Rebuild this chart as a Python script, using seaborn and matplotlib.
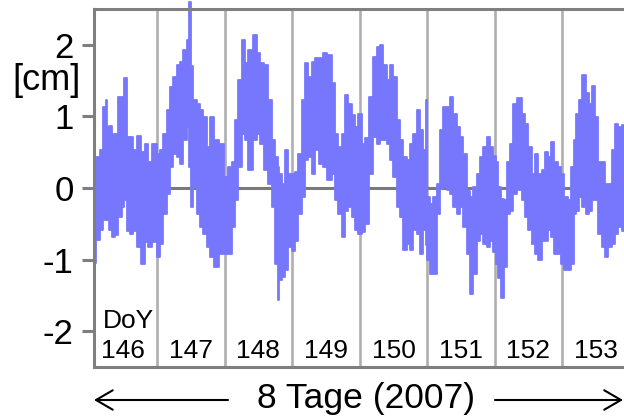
import numpy as np
import matplotlib
matplotlib.use("Agg")
import matplotlib.pyplot as plt
import seaborn as sns
from matplotlib.patches import FancyArrowPatch

# --- data (hours since start of DoY 146, envelope in cm) ---
hours = [1.3, 3.1, 4.3, 5.4, 6.0, 6.6, 7.2, 8.4, 9.6, 10.8, 11.9, 12.8, 13.7, 14.9,
         16.1, 17.6, 19.1, 20.3, 21.4, 23.2, 24.4, 25.6, 26.8, 27.9, 29.2, 30.3,
         31.5, 32.7, 33.9, 35.1, 35.7, 36.3, 37.4, 38.6, 39.8, 41.0, 42.2, 43.4,
         45.2, 46.9, 48.7, 49.9, 51.1, 52.3, 53.4, 54.6, 55.8, 57.0, 58.8, 59.9,
         61.2, 62.9, 64.1, 65.3, 66.5, 67.1, 67.7, 68.8, 70.0, 71.2, 72.4, 73.6,
         74.8, 75.9, 77.2, 78.3, 79.5, 80.7, 82.5, 83.7, 85.4, 86.6, 87.8, 89.0,
         90.2, 91.4, 92.6, 93.7, 94.9, 96.1, 97.3, 98.5, 100.0, 101.4, 102.6,
         103.8, 105.0, 106.2, 107.4, 108.6, 109.7, 110.9, 112.1, 113.3, 114.5,
         115.7, 116.8, 118.0, 119.2, 119.8, 120.4, 121.6, 122.8, 123.9, 125.2,
         126.3, 127.5, 128.7, 129.9, 131.1, 132.3, 133.4, 134.6, 135.8, 137.0,
         138.2, 139.4, 140.6, 141.7, 142.9, 144.1, 144.7, 145.9, 146.8, 147.7,
         148.8, 150.0, 151.2, 153.0, 154.2, 155.4, 156.6, 157.7, 158.9, 160.1,
         161.3, 162.2, 163.7, 164.6, 165.8, 167.0, 168.2, 169.4, 170.5, 171.7,
         172.6, 173.4, 174.6, 175.8, 176.9, 178.1, 179.3, 180.3, 181.4, 182.6,
         183.8, 185.0, 186.2, 187.4, 188.6, 189.7, 191.5]
upper = [0.00, 0.43, 0.53, 1.13, 1.23, 0.85, 0.87, 0.76, 0.76, 1.27, 1.27, 1.53, 0.71, 0.71,
         0.53, 0.73, 0.50, 0.62, 0.36, 0.62, 0.48, 0.53, 0.76, 1.09, 1.41, 1.55,
         1.72, 1.76, 1.93, 2.07, 2.60, 1.70, 1.23, 1.18, 1.09, 0.99, 0.57, 0.99,
         0.67, 0.62, 0.15, 0.29, 0.36, 0.95, 1.51, 2.07, 1.74, 1.93, 2.13, 1.88,
         1.74, 1.72, 1.23, 0.67, 0.43, 0.30, 0.20, 0.06, 0.53, 0.20, 0.20, 0.22,
         0.48, 1.23, 1.74, 1.55, 1.76, 1.81, 1.81, 1.88, 1.86, 1.46, 0.76, 0.57,
         0.76, 1.30, 1.18, 1.02, 0.85, 1.04, 0.62, 0.70, 1.27, 1.83, 1.97,
         2.00, 1.72, 1.51, 1.72, 1.55, 0.95, 0.67, 0.43, 0.39, 0.62,
         0.76, 1.09, 0.81, 0.53, 1.23, -0.12, -0.22, -0.12, 0.06, 0.81,
         1.13, 1.13, 1.27, 1.04, 0.85, 0.71, 0.48, -0.04, -0.13, 0.01,
         0.20, 0.43, 0.57, 0.71, 0.57, 0.45, 0.36, 0.01, -0.15, -0.17,
         0.36, 0.62, 1.18, 1.25, 1.04, 0.90, 0.57, 0.20, 0.48, 0.20,
         0.25, 0.50, 0.43, 0.64, 0.36, 0.29, 0.20, -0.12, -0.17, 0.29,
         0.67, 1.04, 1.23, 1.58, 1.32, 1.18, 1.43, 0.99, 0.36, 0.36,
         0.06, 0.06, 0.53, 0.90, 0.85, 0.88, 0.85]
lower = [-1.05, -0.73, -0.59, -0.45, -0.30, -0.45, -0.59, -0.69, -0.66, -0.41, -0.27, -0.17, -0.60, -0.64,
         -0.60, -0.83, -1.06, -0.75, -0.83, -0.75, -0.97, -0.78, -0.36, -0.08, 0.29, 0.48,
         0.43, 0.34, 0.67, 0.85, 0.30, -0.27, 0.01, -0.36, -0.55, -0.64, -0.83, -0.97,
         -1.11, -0.92, -0.92, -0.92, -0.55, -0.17, 0.29, 0.76, 0.67, 0.25, 0.67, 0.76,
         0.62, 0.25, 0.06, -0.27, -1.06, -1.57, -1.29, -1.24, -1.15, -0.83, -0.88, -0.74,
         -0.36, -0.12, 0.39, 0.43, 0.20, 0.53, 0.34, 0.29, 0.11, 0.20, -0.17, -0.36,
         -0.69, -0.32, -0.27, -0.41, -0.59, -0.64, -0.62, -0.50, 0.20, 0.71, 0.62,
         0.67, 0.67, 0.62, 0.39, 0.15, -0.27, -0.41, -0.87, -0.78, -0.87,
         -0.59, -0.64, -0.92, -0.59, -0.80, -1.01, -1.20, -1.20, -0.36, -0.01,
         0.01, -0.03, -0.08, -0.27, -0.36, -0.27, -0.55, -0.92, -1.48, -1.20,
         -0.74, -0.64, -0.78, -0.83, -0.74, -0.90, -1.06, -1.25, -1.53, -1.10,
         -0.36, -0.32, -0.08, -0.03, -0.17, -0.41, -0.59, -0.78, -0.92, -1.01,
         -0.74, -0.74, -0.59, -0.69, -0.92, -0.92, -1.06, -1.15, -1.15, -1.06,
         -0.36, -0.32, -0.13, -0.27, -0.36, -0.32, -0.17, -0.17, -0.64, -0.83,
         -0.97, -0.83, -0.78, -0.64, -0.55, -0.60, -0.50]

days = [146, 147, 148, 149, 150, 151, 152, 153]
yticks = [-2, -1, 0, 1, 2]

sig_color = "#7777FE"

sns.set_style("white")
plt.rcParams["font.family"] = ["Liberation Sans", "DejaVu Sans"]
plt.rcParams["text.color"] = "black"
plt.rcParams["ytick.labelcolor"] = "black"

doy = 146 + np.array(hours) / 24.0

fig = plt.figure(figsize=(6.24, 4.19), dpi=100)
ax = fig.add_axes([94 / 624, 52 / 419, 535.7 / 624, 358 / 419])

# day boundaries and zero line behind the signal
for d in days[1:]:
    ax.axvline(d, color="#AFAFAF", lw=1.9, zorder=1)
ax.axhline(0, color="#7A7A7A", lw=2.2, zorder=1)

ax.fill_between(doy, lower, upper, step="mid", color=sig_color, lw=0, zorder=2, clip_on=False)
sns.lineplot(x=doy, y=upper, ax=ax, color=sig_color, lw=1.3, drawstyle="steps-mid",
             zorder=2, clip_on=False)
sns.lineplot(x=doy, y=lower, ax=ax, color=sig_color, lw=1.3, drawstyle="steps-mid",
             zorder=2)

ax.set_xlim(146.064, 154.0)
ax.set_ylim(-2.5, 2.5)
ax.set_xticks([])
ax.set_yticks(yticks)
ax.set_yticklabels([str(t) for t in yticks], fontsize=25)
ax.tick_params(axis="y", direction="out", length=8.5, width=2.2, color="#7F7F7F",
               labelcolor="black", pad=6, left=True)
for s in ax.spines.values():
    s.set_color("#7F7F7F")
    s.set_linewidth(2.2)
ax.set_xlabel("")
ax.set_ylabel("")

# day labels
for d in days:
    ax.text(d + 0.5, -2.38, str(d), ha="center", va="baseline", fontsize=19, zorder=3)
ax.text(146.575, -1.95, "DoY", ha="center", va="baseline", fontsize=19, zorder=3)

fig.text(46.5 / 624, 1 - 80 / 419, "[cm]", ha="center", va="center", fontsize=26)

# bottom caption with arrows
fig.text(366 / 624, (419 - 408) / 419, "8 Tage (2007)", ha="center", va="baseline",
         fontsize=25.5)
ay = (419 - 400) / 419
for a, b in [((228 / 624, ay), (94 / 624, ay)), ((495 / 624, ay), (623 / 624, ay))]:
    fig.add_artist(FancyArrowPatch(a, b, transform=fig.transFigure,
                                   arrowstyle="->,head_length=0.6,head_width=0.35",
                                   mutation_scale=20, lw=1.5, color="black",
                                   shrinkA=0, shrinkB=0))

fig.savefig("out.png", dpi=100)
